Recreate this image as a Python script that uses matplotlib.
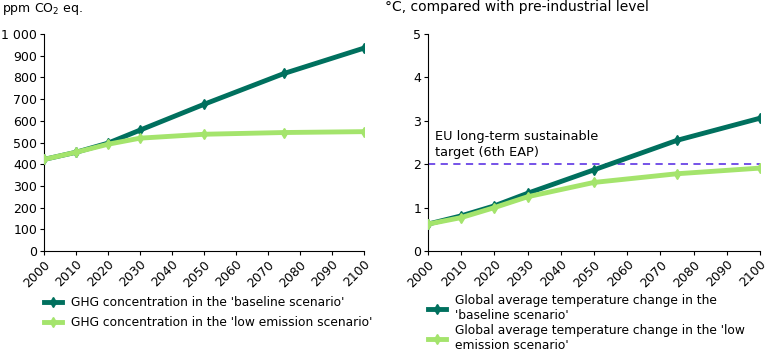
import matplotlib
matplotlib.use('Agg')
import matplotlib.pyplot as plt
from matplotlib.ticker import FuncFormatter

# Données
years = [2000, 2010, 2020, 2030, 2050, 2075, 2100]
ghg_baseline = [422, 455, 497, 557, 676, 818, 935]
ghg_low = [422, 455, 492, 520, 538, 546, 550]
temp_baseline = [0.62, 0.81, 1.04, 1.33, 1.87, 2.55, 3.06]
temp_low = [0.62, 0.77, 1.00, 1.25, 1.58, 1.78, 1.91]
eu_target = 2.0
xticks = list(range(2000, 2101, 10))

dark = '#00705e'
light = '#a4e46c'
dash = '#6a44e6'

plt.rcParams['font.family'] = ['DejaVu Sans']
plt.rcParams['font.size'] = 9

fig = plt.figure(figsize=(7.68, 3.54), dpi=100)
W, H = 768, 354
ax1 = fig.add_axes([44 / W, 1 - 251 / H, 320 / W, 217 / H])
ax2 = fig.add_axes([428 / W, 1 - 251 / H, 332 / W, 217 / H])

def style(ax):
  for s in ['top', 'right']:
    ax.spines[s].set_visible(False)
  ax.tick_params(direction='out', length=3, width=0.8, pad=2, labelsize=9)
  ax.set_xlim(2000, 2100)
  ax.set_xticks(xticks)
  ax.set_xticklabels([str(x) for x in xticks], rotation=45, ha='right', rotation_mode='anchor')

kw = dict(linewidth=3.5, marker='d', markersize=5.5)
lkw = dict(loc='upper left', bbox_transform=fig.transFigure, frameon=False, handlelength=1.5,
           handletextpad=0.7, borderaxespad=0, borderpad=0, fontsize=8.8)

# Gauche : concentration GHG
l1, = ax1.plot(years, ghg_baseline, color=dark, label="GHG concentration in the 'baseline scenario'", zorder=3, **kw)
l2, = ax1.plot(years, ghg_low, color=light, label="GHG concentration in the 'low emission scenario'", zorder=4, **kw)
style(ax1)
ax1.set_ylim(0, 1000)
ax1.set_yticks(range(0, 1001, 100))
ax1.yaxis.set_major_formatter(FuncFormatter(lambda v, p: '{:,}'.format(int(v)).replace(',', ' ')))
fig.text(2 / W, 1 - 9 / H, 'ppm CO$_2$ eq.', fontsize=9, va='center', ha='left')
ax1.legend(handles=[l1, l2], bbox_to_anchor=(44 / W, 1 - 296 / H), labelspacing=0.6, **lkw)

# Droite : température
l3, = ax2.plot(years, temp_baseline, color=dark, label="Global average temperature change in the\n'baseline scenario'", zorder=3, **kw)
l4, = ax2.plot(years, temp_low, color=light, label="Global average temperature change in the 'low\nemission scenario'", zorder=4, **kw)
ax2.axhline(eu_target, color=dash, linestyle=(0, (4, 3)), linewidth=1.3, zorder=2)
ax2.text(2002, 2.12, 'EU long-term sustainable\ntarget (6th EAP)', fontsize=9.3, va='bottom', ha='left', linespacing=1.3)
style(ax2)
ax2.set_ylim(0, 5)
ax2.set_yticks(range(0, 6))
fig.text(385 / W, 1 - 7 / H, '°C, compared with pre-industrial level', fontsize=10, va='center', ha='left')
ax2.legend(handles=[l3, l4], bbox_to_anchor=(428 / W, 1 - 294 / H), labelspacing=0.15, **lkw)

fig.savefig('out.png', dpi=100)
